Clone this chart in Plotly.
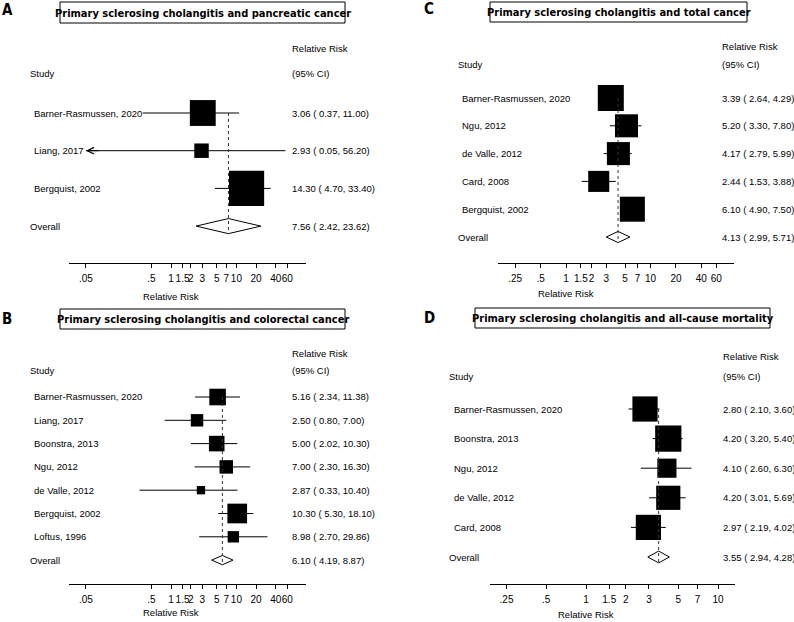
import numpy as np
import plotly.graph_objects as go

W, H = 794, 622

# --- A : pancreatic cancer
studies_a = ["Barner-Rasmussen, 2020", "Liang, 2017", "Bergquist, 2002"]
rr_a = [3.06, 2.93, 14.30]
lo_a = [0.37, 0.05, 4.70]
hi_a = [11.00, 56.20, 33.40]
wt_a = [31.6, 9.9, 58.5]
overall_a = [7.56, 2.42, 23.62]

# --- B : colorectal cancer
studies_b = ["Barner-Rasmussen, 2020", "Liang, 2017", "Boonstra, 2013", "Ngu, 2012",
             "de Valle, 2012", "Bergquist, 2002", "Loftus, 1996"]
rr_b = [5.16, 2.50, 5.00, 7.00, 2.87, 10.30, 8.98]
lo_b = [2.34, 0.80, 2.02, 2.30, 0.33, 5.30, 2.70]
hi_b = [11.38, 7.00, 10.30, 16.30, 10.40, 18.10, 29.86]
wt_b = [19.1, 10.7, 16.8, 12.6, 4.8, 26.9, 9.0]
overall_b = [6.10, 4.19, 8.87]

# --- C : total cancer
studies_c = ["Barner-Rasmussen, 2020", "Ngu, 2012", "de Valle, 2012", "Card, 2008", "Bergquist, 2002"]
rr_c = [3.39, 5.20, 4.17, 2.44, 6.10]
lo_c = [2.64, 3.30, 2.79, 1.53, 4.90]
hi_c = [4.29, 7.80, 5.99, 3.88, 7.50]
wt_c = [24.1, 18.9, 18.9, 15.8, 22.3]
overall_c = [4.13, 2.99, 5.71]

# --- D : all-cause mortality
studies_d = ["Barner-Rasmussen, 2020", "Boonstra, 2013", "Ngu, 2012", "de Valle, 2012", "Card, 2008"]
rr_d = [2.80, 4.20, 4.10, 4.20, 2.97]
lo_d = [2.10, 3.20, 2.60, 3.01, 2.19]
hi_d = [3.60, 5.40, 6.30, 5.69, 4.02]
wt_d = [21.8, 23.6, 12.6, 20.1, 21.8]
overall_d = [3.55, 2.94, 4.28]

ticks_ab = [0.05, 0.5, 1, 1.5, 2, 3, 5, 7, 10, 20, 40, 60]
ticks_c = [0.25, 0.5, 1, 1.5, 2, 3, 5, 7, 10, 20, 40, 60]
ticks_d = [0.25, 0.5, 1, 1.5, 2, 3, 5, 7, 10]

TXT_FONT = "Liberation Sans, Arial, sans-serif"
TITLE_FONT = "Tahoma, DejaVu Sans Condensed, DejaVu Sans, sans-serif"
TXT_SIZE = 9.5

# layout of each panel, in pixels of the 794x622 page
panels = [
    dict(letter="A", title="Primary sclerosing cholangitis and pancreatic cancer",
         studies=studies_a, rr=rr_a, lo=lo_a, hi=hi_a, wt=wt_a, overall=overall_a, ticks=ticks_ab,
         letter_xy=(7, 10), box=(60, 2, 345, 23), px=(69, 306), py=(40, 263),
         one=171, dec=65.4, row0=113, drow=37.7, name_x=32, head_x=28, val_x=290,
         hdr_y=(49, 73), xtitle_y=296, box_k=4.6, arrow_at=0.05),
    dict(letter="B", title="Primary sclerosing cholangitis and colorectal cancer",
         studies=studies_b, rr=rr_b, lo=lo_b, hi=hi_b, wt=wt_b, overall=overall_b, ticks=ticks_ab,
         letter_xy=(7, 319), box=(60, 309, 345, 329), px=(69, 306), py=(349, 584),
         one=171, dec=65.4, row0=397, drow=23.3, name_x=32, head_x=28, val_x=290,
         hdr_y=(353, 370), xtitle_y=612, box_k=3.8, arrow_at=None),
    dict(letter="C", title="Primary sclerosing cholangitis and total cancer",
         studies=studies_c, rr=rr_c, lo=lo_c, hi=hi_c, wt=wt_c, overall=overall_c, ticks=ticks_c,
         letter_xy=(429, 9), box=(490, 2, 747, 22), px=(498, 734), py=(40, 263),
         one=566, dec=84.5, row0=98, drow=27.8, name_x=460, head_x=456, val_x=720,
         hdr_y=(46, 65), xtitle_y=294, box_k=5.3, arrow_at=None),
    dict(letter="D", title="Primary sclerosing cholangitis and all-cause mortality",
         studies=studies_d, rr=rr_d, lo=lo_d, hi=hi_d, wt=wt_d, overall=overall_d, ticks=ticks_d,
         letter_xy=(429, 318), box=(475, 308, 770, 328), px=(490, 735), py=(350, 584),
         one=586, dec=132, row0=409, drow=29.6, name_x=452, head_x=447, val_x=721,
         hdr_y=(356, 376), xtitle_y=614, box_k=5.4, arrow_at=None),
]


def fx(x):
    return x / W


def fy(y):
    return 1 - y / H


def tick_label(v):
    s = f"{v:g}"
    return s[1:] if s.startswith("0.") else s


fig = go.Figure()
annotations = []
shapes = []

for i, p in enumerate(panels, start=1):
    xa = "x" if i == 1 else f"x{i}"
    ya = "y" if i == 1 else f"y{i}"
    xkey = "xaxis" if i == 1 else f"xaxis{i}"
    ykey = "yaxis" if i == 1 else f"yaxis{i}"
    n = len(p["studies"])
    rows = list(range(n))

    xr = [(p["px"][0] - p["one"]) / p["dec"], (p["px"][1] - p["one"]) / p["dec"]]
    yr = [(p["py"][1] - p["row0"]) / p["drow"], (p["py"][0] - p["row0"]) / p["drow"]]

    fig.update_layout({
        xkey: dict(type="log", range=xr, domain=[fx(p["px"][0]), fx(p["px"][1])], anchor=ya,
                   showgrid=False, zeroline=False, showline=True, linecolor="black", linewidth=1,
                   ticks="outside", ticklen=4, tickcolor="black", tickwidth=1, tickangle=0,
                   ticklabelstandoff=2,
                   tickvals=p["ticks"], ticktext=[tick_label(v) for v in p["ticks"]],
                   tickfont=dict(family=TXT_FONT, size=TXT_SIZE + 0.5, color="black")),
        ykey: dict(range=yr, domain=[fy(p["py"][1]), fy(p["py"][0])], anchor=xa,
                   visible=False, showgrid=False, zeroline=False),
    })

    # null line at RR = 1
    shapes.append(dict(type="line", xref=xa, yref=f"{ya} domain", x0=0, x1=0, y0=0, y1=1,
                       line=dict(color="black", width=1)))

    # confidence intervals
    cx, cy = [], []
    for r, lo, hi in zip(rows, p["lo"], p["hi"]):
        cx += [lo, hi, None]
        cy += [r, r, None]
    fig.add_trace(go.Scatter(x=cx, y=cy, mode="lines", xaxis=xa, yaxis=ya,
                             line=dict(color="black", width=1), hoverinfo="skip", showlegend=False))

    # weighted boxes
    sizes = [p["box_k"] * np.sqrt(w) for w in p["wt"]]
    fig.add_trace(go.Scatter(x=p["rr"], y=rows, mode="markers", xaxis=xa, yaxis=ya,
                             marker=dict(symbol="square", size=sizes, color="black", opacity=1,
                                         line=dict(width=0)),
                             showlegend=False, text=p["studies"]))

    # overall diamond
    est, olo, ohi = p["overall"]
    h = 0.2
    fig.add_trace(go.Scatter(x=[olo, est, ohi, est, olo], y=[n, n - h, n, n + h, n],
                             mode="lines", fill="toself", fillcolor="white", xaxis=xa, yaxis=ya,
                             line=dict(color="black", width=1), hoverinfo="skip", showlegend=False))

    # dotted line at the pooled estimate
    fig.add_trace(go.Scatter(x=[est, est], y=[0, n + h], mode="lines", xaxis=xa, yaxis=ya,
                             line=dict(color="#333", width=1, dash="dot"),
                             hoverinfo="skip", showlegend=False))

    # arrow for truncated CI
    if p["arrow_at"] is not None:
        for r, lo in zip(rows, p["lo"]):
            if lo <= p["arrow_at"]:
                annotations.append(dict(x=np.log10(lo), y=r, xref=xa, yref=ya, text="",
                                        showarrow=True, ax=14, ay=0, arrowhead=5, arrowsize=1.3,
                                        arrowwidth=1, arrowcolor="black"))

    tf = dict(family=TXT_FONT, size=TXT_SIZE, color="black")
    # study names and estimates
    for r, s, rr, lo, hi in zip(rows, p["studies"], p["rr"], p["lo"], p["hi"]):
        annotations.append(dict(x=fx(p["name_x"]), y=r, xref="paper", yref=ya, text=s,
                                showarrow=False, xanchor="left", yanchor="middle", font=tf))
        annotations.append(dict(x=fx(p["val_x"]), y=r, xref="paper", yref=ya,
                                text=f"{rr:.2f} ({lo:5.2f}, {hi:.2f})".replace(" ", "&nbsp;"),
                                showarrow=False, xanchor="left", yanchor="middle", font=tf))
    annotations.append(dict(x=fx(p["head_x"]), y=n, xref="paper", yref=ya, text="Overall",
                            showarrow=False, xanchor="left", yanchor="middle", font=tf))
    annotations.append(dict(x=fx(p["val_x"]), y=n, xref="paper", yref=ya,
                            text=f"{est:.2f} ({olo:5.2f}, {ohi:.2f})".replace(" ", "&nbsp;"),
                            showarrow=False, xanchor="left", yanchor="middle", font=tf))

    # headers
    annotations.append(dict(x=fx(p["val_x"]), y=fy(p["hdr_y"][0]), xref="paper", yref="paper",
                            text="Relative Risk", showarrow=False, xanchor="left", yanchor="middle", font=tf))
    annotations.append(dict(x=fx(p["val_x"]), y=fy(p["hdr_y"][1]), xref="paper", yref="paper",
                            text="(95% CI)", showarrow=False, xanchor="left", yanchor="middle", font=tf))
    annotations.append(dict(x=fx(p["head_x"]), y=fy(p["hdr_y"][1]), xref="paper", yref="paper",
                            text="Study", showarrow=False, xanchor="left", yanchor="middle", font=tf))
    # x axis title centred on RR = 1
    annotations.append(dict(x=0, y=fy(p["xtitle_y"]), xref=xa, yref="paper", text="Relative Risk",
                            showarrow=False, xanchor="center", yanchor="middle", font=tf))

    # panel letter and boxed title
    annotations.append(dict(x=fx(p["letter_xy"][0]), y=fy(p["letter_xy"][1]), xref="paper", yref="paper",
                            text=f"<b>{p['letter']}</b>", showarrow=False, xanchor="center", yanchor="middle",
                            font=dict(family=TITLE_FONT, size=15, color="black")))
    bx0, by0, bx1, by1 = p["box"]
    shapes.append(dict(type="rect", xref="paper", yref="paper", x0=fx(bx0), x1=fx(bx1),
                       y0=fy(by1), y1=fy(by0), line=dict(color="black", width=1)))
    annotations.append(dict(x=fx((bx0 + bx1) / 2), y=fy((by0 + by1) / 2 + 0.5), xref="paper", yref="paper",
                            text=f"<b>{p['title']}</b>", showarrow=False, xanchor="center", yanchor="middle",
                            font=dict(family=TITLE_FONT, size=11, color="black")))

fig.update_layout(
    width=W, height=H,
    margin=dict(l=0, r=0, t=0, b=0),
    paper_bgcolor="white", plot_bgcolor="white",
    showlegend=False,
    annotations=annotations,
    shapes=shapes,
)

fig.write_html("out.html", config={"displayModeBar": False},
               post_script="document.body.style.margin='0';")
